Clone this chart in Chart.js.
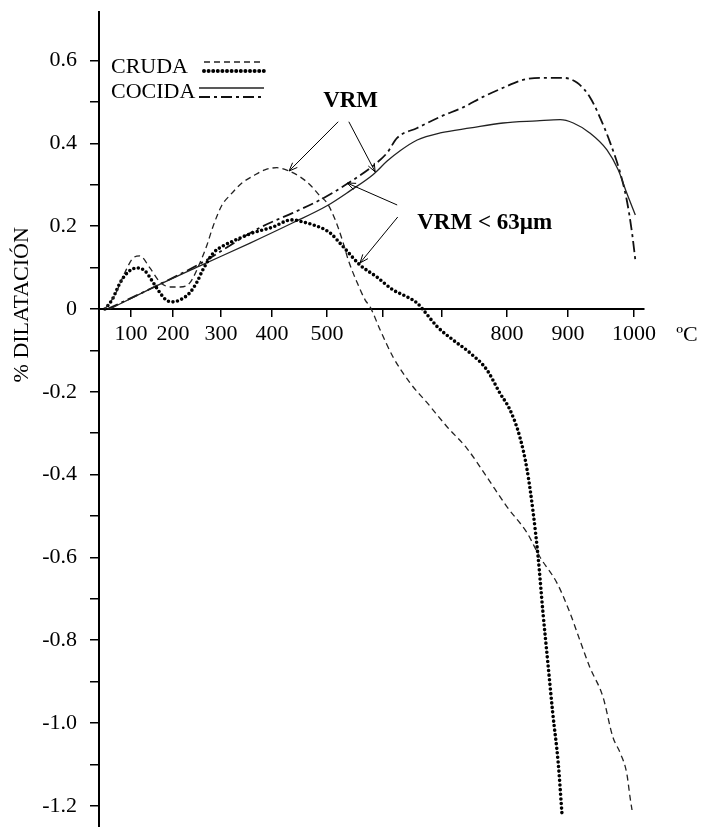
<!DOCTYPE html>
<html>
<head>
<meta charset="utf-8">
<title>Dilatación VRM</title>
<script src="https://cdn.jsdelivr.net/npm/chart.js@4.4.1/dist/chart.umd.min.js"></script>
<style>
  html, body { margin: 0; padding: 0; background: #fff; }
  canvas { display: block; }
</style>
</head>
<body>
<canvas id="dilatChart" width="701" height="827"></canvas>
<script>
// temperature in ºC, expansion in %

// CRUDA, VRM (dashed)
const crudaVrmTemp = [38, 62, 86, 105, 121, 145, 169, 193, 215, 235, 256, 271, 283, 302, 318, 341, 363, 386, 409, 431,
  451, 469, 487, 500, 511, 520, 529, 538, 554, 568, 577, 595, 617, 646, 675, 708, 738, 769, 800, 833,
  854, 882, 903, 918, 933, 953, 968, 979, 989, 994, 997];
const crudaVrmPct = [0, 0.034, 0.089, 0.123, 0.128, 0.099, 0.065, 0.053, 0.053, 0.063, 0.111, 0.155, 0.198, 0.251, 0.275, 0.304, 0.321, 0.336, 0.341, 0.333,
  0.319, 0.300, 0.273, 0.256, 0.227, 0.196, 0.159, 0.118, 0.063, 0.022, 0.005, -0.051, -0.116, -0.179, -0.227, -0.285, -0.336, -0.406, -0.478, -0.541,
  -0.599, -0.662, -0.734, -0.800, -0.865, -0.937, -1.034, -1.072, -1.121, -1.179, -1.210];

// CRUDA, VRM < 63 µm (dotted)
const crudaFinoTemp = [38, 55, 74, 93, 114, 133, 152, 169, 183, 198, 215, 235, 250, 262, 284, 304, 324, 363, 402, 427,
  438, 456, 475, 505, 529, 559, 589, 617, 641, 658, 668, 692, 717, 743, 769, 789, 805, 821, 833, 843,
  851, 859, 867, 875, 884, 890];
const crudaFinoPct = [0, 0.022, 0.063, 0.089, 0.099, 0.092, 0.065, 0.039, 0.022, 0.017, 0.022, 0.039, 0.065, 0.094, 0.135, 0.152, 0.164, 0.184, 0.198, 0.213,
  0.215, 0.210, 0.203, 0.184, 0.150, 0.106, 0.077, 0.046, 0.029, 0.014, -0.002, -0.043, -0.075, -0.106, -0.147, -0.203, -0.244, -0.309, -0.389, -0.493,
  -0.599, -0.734, -0.855, -0.976, -1.097, -1.217];

// COCIDA, VRM < 63 µm (solid)
const cocidaFinoTemp = [50, 145, 256, 357, 438, 500, 541, 582, 607, 629, 658, 697, 744, 794, 849, 887, 908, 933, 959, 976, 989, 1002];
const cocidaFinoPct = [0, 0.048, 0.104, 0.159, 0.208, 0.249, 0.285, 0.324, 0.357, 0.382, 0.408, 0.425, 0.437, 0.449, 0.454, 0.457, 0.449, 0.425, 0.384, 0.336, 0.280, 0.227];

// COCIDA, VRM (dash-dot)
const cocidaVrmTemp = [45, 145, 256, 376, 438, 487, 536, 589, 607, 624, 658, 697, 734, 763, 794, 826, 854, 892, 914, 933, 948, 964, 979, 989, 997, 1002];
const cocidaVrmPct = [0, 0.048, 0.109, 0.196, 0.232, 0.263, 0.302, 0.353, 0.377, 0.413, 0.437, 0.464, 0.488, 0.512, 0.534, 0.553, 0.558, 0.558, 0.546, 0.512, 0.464, 0.401, 0.329, 0.263, 0.184, 0.118];

const xTickTemps = [100, 200, 300, 400, 500, 600, 700, 800, 900, 1000];
const xTickLabels = ['100', '200', '300', '400', '500', '', '', '800', '900', '1000'];
const yTickValues = [0.6, 0.5, 0.4, 0.3, 0.2, 0.1, 0, -0.1, -0.2, -0.3, -0.4, -0.5, -0.6, -0.7, -0.8, -0.9, -1.0, -1.1, -1.2];
const yTickLabels = ['0.6', '', '0.4', '', '0.2', '', '0', '', '-0.2', '', '-0.4', '', '-0.6', '', '-0.8', '', '-1.0', '', '-1.2'];

// the temperature axis is not evenly divided: [ºC, axis unit] stops, 545 units in all
const tempAxisStops = [[24, 0], [100, 32], [200, 74], [300, 122], [400, 173], [500, 228],
  [600, 284], [700, 343], [800, 408], [900, 469], [1000, 535], [1015, 545]];

function warp(t) {
  let i = 1;
  while (i < tempAxisStops.length - 1 && t > tempAxisStops[i][0]) i++;
  const [t0, u0] = tempAxisStops[i - 1];
  const [t1, u1] = tempAxisStops[i];
  return u0 + (t - t0) * (u1 - u0) / (t1 - t0);
}

function series(temps, pcts) {
  return temps.map((t, i) => ({ x: warp(t), y: pcts[i] }));
}

const serif = '"Liberation Serif", "Times New Roman", serif';
Chart.defaults.font.family = serif;
Chart.defaults.color = '#000';

// callouts, placed in data units
const notes = [
  { text: 'VRM', at: [493, 0.502] },
  { text: 'VRM < 63\u00b5m', at: [658, 0.208] }
];
const arrows = [
  [[520, 0.452], [431, 0.333]],
  [[539, 0.452], [586, 0.331]],
  [[624, 0.251], [536, 0.304]],
  [[625, 0.222], [559, 0.111]]
];

function drawArrow(ctx, x1, y1, x2, y2) {
  const a = Math.atan2(y2 - y1, x2 - x1);
  ctx.beginPath();
  ctx.moveTo(x1, y1);
  ctx.lineTo(x2, y2);
  ctx.moveTo(x2 - 9 * Math.cos(a - 0.38), y2 - 9 * Math.sin(a - 0.38));
  ctx.lineTo(x2, y2);
  ctx.lineTo(x2 - 9 * Math.cos(a + 0.38), y2 - 9 * Math.sin(a + 0.38));
  ctx.stroke();
}

function sample(ctx, ds, x1, x2, yy) {
  ctx.save();
  ctx.strokeStyle = ds.borderColor;
  ctx.lineWidth = ds.borderWidth + 0.4;
  ctx.lineCap = ds.borderCapStyle || 'butt';
  ctx.setLineDash(ds.borderDash || []);
  ctx.beginPath();
  ctx.moveTo(x1, yy);
  ctx.lineTo(x2, yy);
  ctx.stroke();
  ctx.restore();
}

const decorations = {
  id: 'decorations',
  afterDraw(chart) {
    const { ctx, chartArea, scales: { x, y } } = chart;
    const px = t => x.getPixelForValue(warp(t));
    const py = v => y.getPixelForValue(v);
    const ds = chart.data.datasets;

    ctx.save();
    ctx.fillStyle = '#000';
    ctx.strokeStyle = '#000';

    // axis titles
    ctx.font = '22px ' + serif;
    ctx.textBaseline = 'middle';
    ctx.textAlign = 'center';
    ctx.save();
    ctx.translate(22, py(0.01));
    ctx.rotate(-Math.PI / 2);
    ctx.fillText('% DILATACIÓN', 0, 0);
    ctx.restore();
    ctx.fillText('ºC', chartArea.right + 43, py(0) + 26);

    // legend
    ctx.textAlign = 'left';
    const lx = chartArea.left + 12;
    ctx.fillText('CRUDA', lx, chartArea.top + 55);
    ctx.fillText('COCIDA', lx, chartArea.top + 80);
    sample(ctx, ds[0], lx + 93, lx + 153, chartArea.top + 50);
    sample(ctx, ds[1], lx + 93, lx + 153, chartArea.top + 59);
    sample(ctx, ds[2], lx + 88, lx + 153, chartArea.top + 76);
    sample(ctx, ds[3], lx + 88, lx + 153, chartArea.top + 85);

    // callouts
    ctx.font = 'bold 23px ' + serif;
    notes.forEach(n => ctx.fillText(n.text, px(n.at[0]), py(n.at[1])));
    ctx.lineWidth = 1;
    arrows.forEach(([a, b]) => drawArrow(ctx, px(a[0]), py(a[1]), px(b[0]), py(b[1])));
    ctx.restore();
  }
};

new Chart(document.getElementById('dilatChart'), {
  type: 'line',
  data: {
    datasets: [
      {
        label: 'CRUDA VRM',
        data: series(crudaVrmTemp, crudaVrmPct),
        borderColor: '#222',
        borderWidth: 1.3,
        borderDash: [6, 4]
      },
      {
        label: 'CRUDA VRM < 63µm',
        data: series(crudaFinoTemp, crudaFinoPct),
        borderColor: '#000',
        borderWidth: 3.6,
        borderDash: [0, 4.6],
        borderCapStyle: 'round'
      },
      {
        label: 'COCIDA VRM < 63µm',
        data: series(cocidaFinoTemp, cocidaFinoPct),
        borderColor: '#222',
        borderWidth: 1.3
      },
      {
        label: 'COCIDA VRM',
        data: series(cocidaVrmTemp, cocidaVrmPct),
        borderColor: '#111',
        borderWidth: 1.8,
        borderDash: [11, 4, 3, 4]
      }
    ]
  },
  options: {
    responsive: false,
    animation: false,
    devicePixelRatio: 1,
    layout: { padding: { top: 12, right: 57, bottom: 0, left: 0 } },
    elements: {
      point: { radius: 0 },
      line: { cubicInterpolationMode: 'monotone', fill: false }
    },
    plugins: {
      legend: { display: false },
      tooltip: { enabled: false }
    },
    scales: {
      x: {
        type: 'linear',
        position: { y: 0 },
        min: 0,
        max: 545,
        afterFit: scale => { scale.height = 0; },
        afterBuildTicks: scale => { scale.ticks = xTickTemps.map(t => ({ value: warp(t) })); },
        ticks: {
          autoSkip: false,
          maxRotation: 0,
          minRotation: 0,
          padding: 5,
          font: { size: 22 },
          callback: (v, i) => xTickLabels[i]
        },
        grid: { drawOnChartArea: false, drawTicks: true, tickLength: 7, color: '#000', lineWidth: 1.5 },
        border: { display: true, color: '#000', width: 2 }
      },
      y: {
        type: 'linear',
        position: 'left',
        min: -1.251,
        max: 0.717,
        // let the axis run the full height, without room kept for the end labels
        afterFit: scale => {
          scale.width = 99;
          scale.paddingTop = 0;
          scale.paddingBottom = 0;
        },
        afterBuildTicks: scale => { scale.ticks = yTickValues.map(v => ({ value: v })); },
        ticks: {
          autoSkip: false,
          padding: 13,
          font: { size: 22 },
          callback: (v, i) => yTickLabels[i]
        },
        grid: { drawOnChartArea: false, drawTicks: true, tickLength: 9, color: '#000', lineWidth: 1.5 },
        border: { display: true, color: '#000', width: 2 }
      }
    }
  },
  plugins: [decorations]
});
</script>
</body>
</html>
